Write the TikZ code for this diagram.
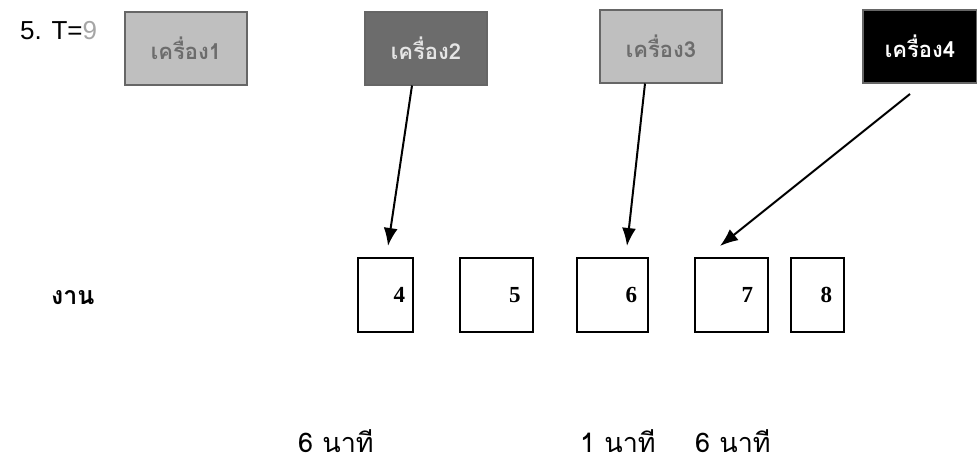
\documentclass[tikz,border=0pt]{standalone}
\usepackage{fontspec}
\setmainfont{Liberation Sans}
\newfontfamily\thaifont[Script=Thai]{Loma}
\newfontfamily\numfont{Liberation Serif}
\usetikzlibrary{arrows.meta,calc}
\begin{document}
\begin{tikzpicture}[x=1pt,y=-1pt,
  machine/.style={draw=#1!80!black, line width=2pt, minimum width=122pt, minimum height=73pt, inner sep=0pt, font=\thaifont\bfseries\fontsize{22}{22}\selectfont},
  jobbox/.style={draw=black, line width=2pt, minimum width=55pt, minimum height=74pt, inner sep=0pt, font=\numfont\bfseries\fontsize{23}{23}\selectfont},
  lbl/.style={inner sep=0pt, anchor=base west, font=\thaifont\fontsize{27}{27}\selectfont},
  arr/.style={line width=2pt, -{Latex[length=18pt,width=14pt]}}]
\useasboundingbox (0,0) rectangle (977,466);
\fill[white] (0,0) rectangle (977,466);
% title
\node[inner sep=0pt, anchor=west, font=\fontsize{26}{26}\selectfont] (title) at (20,31) {5. T=\textcolor{gray!70}{9}};
% machines
\node[machine=gray, fill=gray!50, text=gray!85!black] (m1) at (186,48) {เครื่อง1};
\node[machine=gray, fill=gray!85!black, text=gray!20] (m2) at (426,48) {เครื่อง2};
\node[machine=gray, fill=gray!50, text=gray!85!black] (m3) at (661,46) {เครื่อง3};
\node[machine=gray, fill=black, text=white, minimum width=114pt] (m4) at (920,46) {เครื่อง4};
% jobs
\node[inner sep=0pt, anchor=west, font=\thaifont\bfseries\fontsize{25}{25}\selectfont] (ngan) at (51,298) {งาน};
\node[jobbox, text width=40pt, align=right] (j4) at (385,295) {4};
\node[jobbox, minimum width=73pt, text width=49pt, align=right] (j5) at (496,295) {5};
\node[jobbox, minimum width=71pt, text width=50pt, align=right] (j6) at (612,295) {6};
\node[jobbox, minimum width=73pt, text width=44pt, align=right] (j7) at (731,295) {7};
\node[jobbox, minimum width=53pt, text width=30pt, align=right] (j8) at (817,295) {8};
% times
\node[lbl] (t4) at (298,452) {6 นาที};
\node[lbl] (t6) at (580,452) {1 นาที};
\node[lbl] (t7) at (695,452) {6 นาที};
% arrows
\coordinate (a1) at (388,246);
\coordinate (a2) at (627,246);
\coordinate (a3s) at (910,94);
\coordinate (a3) at (720,246);
\draw[arr] ($(m2.south)+(-14,0)$) -- (a1);
\draw[arr] ($(m3.south)+(-16,0)$) -- (a2);
\draw[arr] (a3s) -- (a3);
\end{tikzpicture}
\end{document}
